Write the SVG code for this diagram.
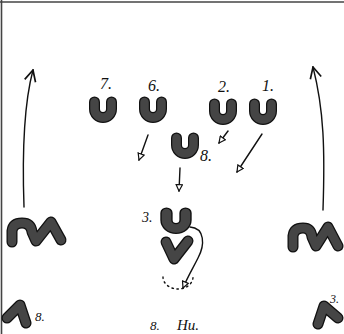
<svg xmlns="http://www.w3.org/2000/svg" xmlns:xlink="http://www.w3.org/1999/xlink" width="344" height="334" viewBox="0 0 344 334">
<style>
.o{fill:none;stroke:#111;stroke-width:11;stroke-linecap:round;stroke-linejoin:round}
.i{fill:none;stroke:#454545;stroke-width:8.5;stroke-linecap:round;stroke-linejoin:round}
.lbl{font-family:"Liberation Serif",serif;font-style:italic;font-size:16px;fill:#111}
.c{fill:none;stroke:#111;stroke-width:1.4;stroke-linecap:round}
.b{stroke:#444;stroke-width:1.6}
</style>
<defs>
<g id="U">
<path class="o" d="M-8.5,-6 L-8.5,1 A8.5,8.5 0 0 0 8.5,1 L8.5,-6"/>
<path class="i" d="M-8.5,-6 L-8.5,1 A8.5,8.5 0 0 0 8.5,1 L8.5,-6"/>
</g>
<marker id="at" viewBox="0 0 10 10" refX="9" refY="5" markerWidth="8" markerHeight="8" orient="auto" markerUnits="userSpaceOnUse">
<path d="M1,1 L9,5 L1,9 Z" fill="#fff" stroke="#111" stroke-width="1.5"/>
</marker>
<marker id="al" viewBox="0 0 10 10" refX="9" refY="5" markerWidth="14" markerHeight="14" orient="auto" markerUnits="userSpaceOnUse">
<path d="M1,1 L9,5 L1,9" fill="none" stroke="#111" stroke-width="1.2"/>
</marker>
</defs>
<rect width="344" height="334" fill="#fff"/>
<line class="b" x1="0" y1="2" x2="344" y2="2"/>
<line class="b" x1="1.5" y1="0" x2="1.5" y2="334"/>

<g id="connectors">
<path class="c" d="M24,207 C22,150 25,100 33,70" marker-end="url(#al)"/>
<path class="c" d="M323,210 C325,150 324,110 313,67" marker-end="url(#al)"/>
<path class="c" d="M148,135 L139,160" marker-end="url(#at)"/>
<path class="c" d="M228,131 L219,143" marker-end="url(#at)"/>
<path class="c" d="M262,134 L237,172" marker-end="url(#at)"/>
<path class="c" d="M180,168 L179,191" marker-end="url(#at)"/>
<path class="c" d="M190,227 C205,228 205,245 198,258 C193,268 188,276 183,288" marker-end="url(#at)"/>
<path d="M163,277 A15,12 0 1 0 193,277" fill="none" stroke="#111" stroke-width="1.4" stroke-dasharray="1.5 3.5" stroke-linecap="round"/>
</g>

<g id="player-7" transform="translate(103,108)"><use xlink:href="#U"/></g>
<text class="lbl" x="100" y="89">7.</text>
<g id="player-6" transform="translate(153,108)"><use xlink:href="#U"/></g>
<text class="lbl" x="148" y="91">6.</text>
<g id="player-2" transform="translate(223,110)"><use xlink:href="#U"/></g>
<text class="lbl" x="218" y="92">2.</text>
<g id="player-1" transform="translate(263,110)"><use xlink:href="#U"/></g>
<text class="lbl" x="262" y="91">1.</text>
<g id="player-8" transform="translate(185,144)"><use xlink:href="#U"/><text class="lbl" x="15" y="17">8.</text></g>
<g id="player-3" transform="translate(176,219)"><g transform="scale(1.12,1)"><use xlink:href="#U"/></g><text class="lbl" x="-34" y="3" style="font-size:14px">3.</text></g>

<g id="v-shape">
<path class="o" d="M166,242 L174,259 L188,241"/>
<path class="i" d="M166,242 L174,259 L188,241"/>
</g>

<g id="left-mn">
<path class="o" d="M12,242 L12,231 Q13,223 22,223 Q31,223 32,232 L36,241 L51,222 L61,240"/>
<path class="i" d="M12,242 L12,231 Q13,223 22,223 Q31,223 32,232 L36,241 L51,222 L61,240"/>
</g>
<g id="right-mn">
<path class="o" d="M293,247 L293,236 Q294,228 303,228 Q311,228 312,237 L316,246 L328,227 L338,246"/>
<path class="i" d="M293,247 L293,236 Q294,228 303,228 Q311,228 312,237 L316,246 L328,227 L338,246"/>
</g>

<g id="bottom-left-8">
<path class="o" d="M7,318 L20,305 L26,323"/>
<path class="i" d="M7,318 L20,305 L26,323"/>
<text class="lbl" x="35" y="321" style="font-size:13px">8.</text>
</g>
<g id="bottom-right-3">
<path class="o" d="M318,324 L324,306 L338,318"/>
<path class="i" d="M318,324 L324,306 L338,318"/>
<text class="lbl" x="330" y="303" style="font-size:12px">3.</text>
</g>

<text class="lbl" x="150" y="330" style="font-size:13px">8.</text>
<text class="lbl" x="177" y="330" style="font-size:15px">Hu.</text>
</svg>
